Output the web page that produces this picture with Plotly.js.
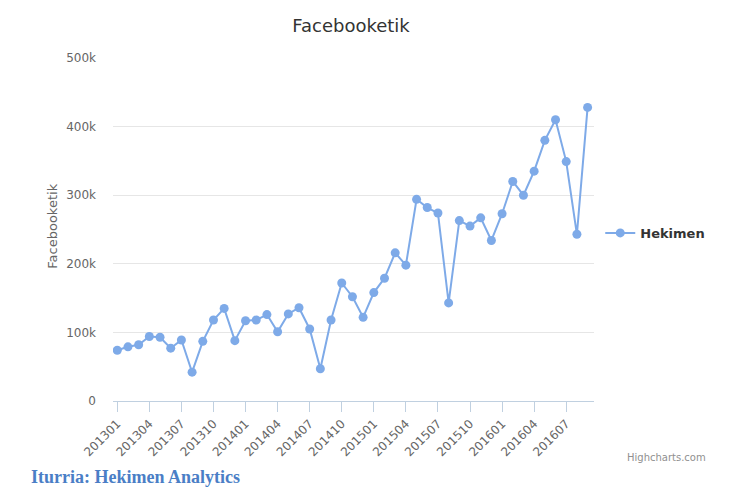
<!DOCTYPE html>
<html>
<head>
<meta charset="utf-8">
<script src="https://cdn.plot.ly/plotly-3.0.1.min.js"></script>
<style>
  html, body { margin: 0; padding: 0; background: #fff; }
  #chart { width: 738px; height: 494px; }
</style>
</head>
<body>
<div id="chart"></div>
<script>
// Data (monthly Facebook figures)
const months = [
    '201301', '201302', '201303', '201304', '201305', '201306', '201307', '201308', '201309', '201310', '201311', '201312',
    '201401', '201402', '201403', '201404', '201405', '201406', '201407', '201408', '201409', '201410', '201411', '201412',
    '201501', '201502', '201503', '201504', '201505', '201506', '201507', '201508', '201509', '201510', '201511', '201512',
    '201601', '201602', '201603', '201604', '201605', '201606', '201607', '201608', '201609'
];
const hekimen = [
    74000, 79000, 82000, 94000, 93000, 77000, 89000, 42000, 87000, 118000, 135000, 88000,
    117000, 118000, 126000, 101000, 127000, 136000, 105000, 47000, 118000, 172000, 152000, 122000,
    158000, 179000, 216000, 198000, 294000, 282000, 274000, 143000, 263000, 255000, 267000, 234000,
    273000, 320000, 300000, 335000, 380000, 410000, 349000, 243000, 428000
];
const xTicks = ['201301', '201304', '201307', '201310', '201401', '201404', '201407', '201410',
    '201501', '201504', '201507', '201510', '201601', '201604', '201607'];
const yTickVals = [0, 100000, 200000, 300000, 400000, 500000];
const yTickText = ['0', '100k', '200k', '300k', '400k', '500k'];

const lineColor = '#7eaae8';
const labelFont = { family: 'DejaVu Sans', color: '#666666' };

const trace = {
    x: months,
    y: hekimen,
    type: 'scatter',
    mode: 'lines+markers',
    name: 'Hekimen',
    line: { color: lineColor, width: 2 },
    marker: { color: lineColor, size: 9 },
    hoverinfo: 'x+y'
};

const layout = {
    width: 738,
    height: 494,
    paper_bgcolor: '#ffffff',
    plot_bgcolor: '#ffffff',
    margin: { l: 113, r: 144, t: 58, b: 93 },
    title: {
        text: 'Facebooketik',
        font: { family: 'DejaVu Sans', size: 18, color: '#333333' },
        x: 351 / 738, xref: 'container', xanchor: 'center',
        y: 1 - 26 / 494, yref: 'container', yanchor: 'middle'
    },
    xaxis: {
        type: 'category',
        range: [-0.4, 44.6],
        tickmode: 'array',
        tickvals: xTicks,
        ticktext: xTicks,
        tickangle: -45,
        ticks: 'outside',
        ticklen: 10,
        tickcolor: '#c0d0e0',
        tickwidth: 1,
        showline: true,
        linecolor: '#c0d0e0',
        linewidth: 1,
        showgrid: false,
        zeroline: false,
        tickfont: Object.assign({ size: 12 }, labelFont)
    },
    yaxis: {
        range: [0, 500000],
        tickmode: 'array',
        tickvals: yTickVals,
        ticktext: yTickText,
        showgrid: true,
        gridcolor: '#e6e6e6',
        gridwidth: 1,
        zeroline: false,
        showline: false,
        ticks: '',
        ticklabelstandoff: 16,
        tickfont: Object.assign({ size: 12 }, labelFont)
    },
    showlegend: true,
    legend: {
        x: 1.013, xanchor: 'left',
        y: 0.49, yanchor: 'middle',
        bgcolor: 'rgba(0,0,0,0)',
        font: { family: 'DejaVu Sans', size: 13, color: '#333333', weight: 'bold' }
    },
    annotations: [
        {
            text: 'Facebooketik',
            xref: 'paper', yref: 'paper',
            x: (51.7 - 113) / 481, y: (401 - 226) / 343,
            xanchor: 'center', yanchor: 'middle',
            textangle: -90,
            showarrow: false,
            font: { family: 'DejaVu Sans', size: 13, color: '#666666' }
        },
        {
            text: 'Highcharts.com',
            xref: 'paper', yref: 'paper',
            x: (708 - 113) / 481, y: (401 - 457) / 343,
            xanchor: 'right', yanchor: 'middle',
            showarrow: false,
            font: { family: 'DejaVu Sans', size: 10, color: '#909090' }
        },
        {
            text: '<b>Iturria: Hekimen Analytics</b>',
            xref: 'paper', yref: 'paper',
            x: (29 - 113) / 481, y: (401 - 477) / 343,
            xanchor: 'left', yanchor: 'middle',
            showarrow: false,
            font: { family: 'Liberation Serif', size: 18, color: '#4a7ec6' }
        }
    ]
};

Plotly.newPlot('chart', [trace], layout, { displayModeBar: false, staticPlot: true });
</script>
</body>
</html>
